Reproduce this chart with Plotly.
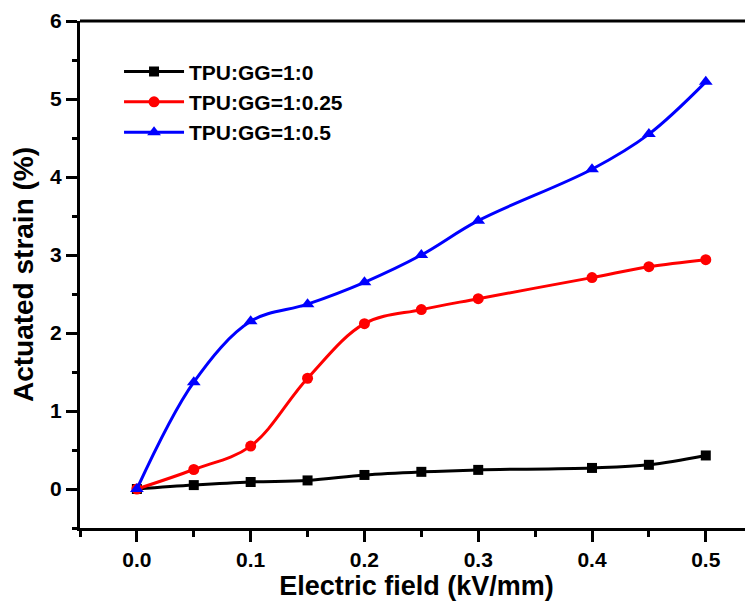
import plotly.graph_objects as go

field = [0.0, 0.05, 0.1, 0.15, 0.2, 0.25, 0.3, 0.4, 0.45, 0.5]
strain_1_0 = [0.0, 0.05, 0.09, 0.11, 0.18, 0.22, 0.245, 0.27, 0.31, 0.43]
strain_1_025 = [0.0, 0.25, 0.55, 1.42, 2.12, 2.30, 2.44, 2.71, 2.85, 2.94]
strain_1_05 = [0.0, 1.37, 2.15, 2.37, 2.65, 3.00, 3.44, 4.10, 4.55, 5.22]
names = ["TPU:GG=1:0", "TPU:GG=1:0.25", "TPU:GG=1:0.5"]

fig = go.Figure()
specs = [
    (strain_1_0, "#000000", "square", 10),
    (strain_1_025, "#ff0000", "circle", 11),
    (strain_1_05, "#0000ff", "triangle-up", 12),
]
for name, (ys, col, sym, sz) in zip(names, specs):
    fig.add_trace(go.Scatter(
        x=field, y=ys, name=name, mode="lines+markers",
        line=dict(color=col, width=3, shape="spline", smoothing=1.0),
        marker=dict(color=col, symbol=sym, size=sz),
    ))

font_fam = "Liberation Sans, Arial, sans-serif"
axis_common = dict(
    showline=True, linecolor="black", linewidth=3,
    ticks="outside", ticklen=11, tickwidth=2.5, tickcolor="black",
    showgrid=False, zeroline=False, automargin=False,
    tickfont=dict(family=font_fam, size=21, color="black", weight="bold"),
)
fig.update_xaxes(
    range=[-0.05, 0.5415], tick0=0, dtick=0.1, tickformat=".1f",
    minor=dict(ticks="outside", ticklen=6, tickwidth=2.5, tickcolor="black", dtick=0.05, tick0=0),
    title=dict(text="Electric field (kV/mm)", font=dict(family=font_fam, size=27, color="black", weight="bold"), standoff=5),
    **axis_common,
)
fig.update_yaxes(
    range=[-0.5, 6], tick0=0, dtick=1,
    minor=dict(ticks="outside", ticklen=5, tickwidth=2.5, tickcolor="black", dtick=0.5, tick0=0),
    title=dict(text="Actuated strain (%)", font=dict(family=font_fam, size=28, color="black", weight="bold"), standoff=12),
    **axis_common,
)
fig.add_shape(type="line", xref="paper", yref="paper", x0=0, x1=1, y0=1, y1=1,
              line=dict(color="black", width=3))
fig.update_layout(
    width=745, height=594,
    margin=dict(l=72, r=0, t=13, b=74),
    paper_bgcolor="white", plot_bgcolor="white",
    showlegend=True,
    legend=dict(x=0.058, y=0.94, xanchor="left", yanchor="top",
                font=dict(family=font_fam, size=21, color="black", weight="bold"),
                bgcolor="rgba(0,0,0,0)", itemwidth=60, tracegroupgap=0),
)
fig.write_html("out.html")
